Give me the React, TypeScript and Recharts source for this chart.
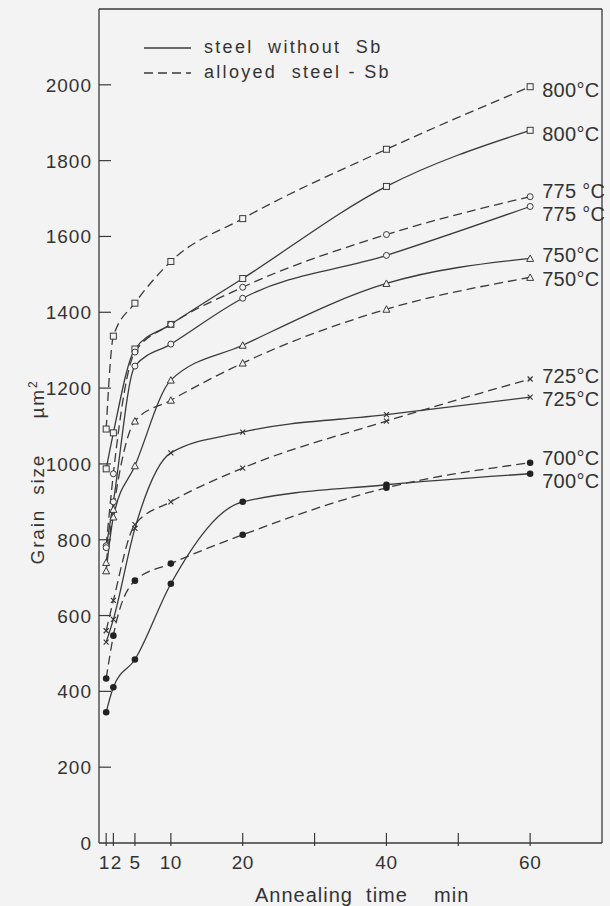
import { LineChart, Line, XAxis, YAxis, ReferenceLine } from "recharts";

// annealing times (min) shared by every curve
const times = [1, 2, 5, 10, 20, 40, 60];

// grain size (µm²), solid = steel without Sb, dashed = alloyed steel-Sb
const solid800 = [987, 1082, 1303, 1368, 1489, 1732, 1880];
const dashed800 = [1092, 1337, 1424, 1534, 1647, 1830, 1995];
const solid775 = [779, 900, 1258, 1316, 1437, 1550, 1679];
const dashed775 = [784, 974, 1295, 1368, 1466, 1605, 1705];
const solid750 = [718, 860, 995, 1221, 1313, 1476, 1542];
const dashed750 = [740, 880, 1113, 1168, 1266, 1408, 1492];
const solid725 = [530, 590, 830, 1029, 1084, 1130, 1176];
const dashed725 = [560, 640, 840, 900, 989, 1113, 1224];
const solid700 = [345, 411, 484, 684, 900, 945, 974];
const dashed700 = [434, 547, 692, 737, 813, 937, 1003];

const xTicks = [1, 2, 5, 10, 20, 30, 40, 50, 60];
const xTickLabels = ["1", "2", "5", "10", "20", "", "40", "", "60"];
const yTicks = [0, 200, 400, 600, 800, 1000, 1200, 1400, 1600, 1800, 2000];

const INK = "#3a3a3a";
const BG = "#f3f3f3";
const FONT = "'Liberation Sans', Arial, sans-serif";

type Marker = "square" | "circle" | "triangle" | "cross" | "dot";

const series: { key: string; values: number[]; dashed: boolean; marker: Marker; label: string; dy: number }[] = [
  { key: "d800", values: dashed800, dashed: true, marker: "square", label: "800°C", dy: 3 },
  { key: "s800", values: solid800, dashed: false, marker: "square", label: "800°C", dy: 4 },
  { key: "d775", values: dashed775, dashed: true, marker: "circle", label: "775 °C", dy: -6 },
  { key: "s775", values: solid775, dashed: false, marker: "circle", label: "775 °C", dy: 7 },
  { key: "s750", values: solid750, dashed: false, marker: "triangle", label: "750°C", dy: -3 },
  { key: "d750", values: dashed750, dashed: true, marker: "triangle", label: "750°C", dy: 2 },
  { key: "d725", values: dashed725, dashed: true, marker: "cross", label: "725°C", dy: -3 },
  { key: "s725", values: solid725, dashed: false, marker: "cross", label: "725°C", dy: 2 },
  { key: "d700", values: dashed700, dashed: true, marker: "dot", label: "700°C", dy: -5 },
  { key: "s700", values: solid700, dashed: false, marker: "dot", label: "700°C", dy: 7 },
];

const rows = times.map((t, i) => {
  const row: Record<string, number> = { t };
  series.forEach((s) => (row[s.key] = s.values[i]));
  return row;
});

const makeDot = (marker: Marker) => (p: any) => {
  const { cx, cy, index } = p;
  if (cx == null || cy == null) return <g key={index} />;
  const k = `m${index}`;
  if (marker === "square")
    return <rect key={k} x={cx - 3} y={cy - 3} width={6} height={6} fill={BG} stroke={INK} strokeWidth={1} />;
  if (marker === "circle") return <circle key={k} cx={cx} cy={cy} r={3} fill={BG} stroke={INK} strokeWidth={1} />;
  if (marker === "triangle")
    return (
      <path key={k} d={`M${cx},${cy - 3.5} L${cx + 3.5},${cy + 3} L${cx - 3.5},${cy + 3} Z`} fill={BG} stroke={INK} strokeWidth={1} />
    );
  if (marker === "cross")
    return (
      <path key={k} d={`M${cx - 2.5},${cy - 2.5} L${cx + 2.5},${cy + 2.5} M${cx - 2.5},${cy + 2.5} L${cx + 2.5},${cy - 2.5}`} stroke={INK} strokeWidth={1.2} />
    );
  return <circle key={k} cx={cx} cy={cy} r={3.3} fill="#222" />;
};

const makeLabel = (text: string, dy: number) => (p: any) => {
  const last = p.index === times.length - 1 || (p.index == null && p.x > 520);
  if (!last) return null;
  return (
    <text key="lbl" x={p.x + 12} y={p.y + dy + 7} fill="#333" fontSize={20} fontFamily={FONT} letterSpacing={0.3}>
      {text}
    </text>
  );
};

const XTick = (p: any) => {
  const { x, y, payload } = p;
  const v = payload.value;
  const lbl = xTickLabels[xTicks.indexOf(v)];
  const dx = v === 1 ? -2 : v === 2 ? 3 : 0;
  return (
    <g>
      <line x1={x} x2={x} y1={y - 10} y2={y + 3} stroke={INK} strokeWidth={1.2} />
      {lbl && (
        <text x={x + dx} y={y + 26} textAnchor="middle" fill="#333" fontSize={19} fontFamily={FONT} letterSpacing={0.5}>
          {lbl}
        </text>
      )}
    </g>
  );
};

const YTick = (p: any) => {
  const { x, y, payload } = p;
  return (
    <g>
      {payload.value !== 0 && <line x1={x} x2={x + 12} y1={y} y2={y} stroke={INK} strokeWidth={1.2} />}
      <text x={x - 7} y={y + 7} textAnchor="end" fill="#333" fontSize={19} fontFamily={FONT} letterSpacing={1}>
        {payload.value}
      </text>
    </g>
  );
};

const XTitle = () => (
  <text x={255} y={902} fill="#333" fontSize={20} fontFamily={FONT} letterSpacing={1} style={{ whiteSpace: "pre" }}>
    {"Annealing  time    min"}
  </text>
);

const YTitle = () => (
  <text
    x={0}
    y={0}
    transform="translate(44,472) rotate(-90)"
    textAnchor="middle"
    fill="#333"
    fontSize={19}
    fontFamily={FONT}
    letterSpacing={1.8}
    style={{ whiteSpace: "pre" }}
  >
    {"Grain  size     µm"}
    <tspan dy={-7} fontSize={12}>2</tspan>
  </text>
);

export default function App() {
  return (
    <div style={{ position: "absolute", left: 0, top: 0, width: 610, height: 906, background: BG }}>
      <LineChart width={610} height={906} data={rows} margin={{ top: 9, right: 8, left: 0, bottom: 0 }}>
        <XAxis
          dataKey="t"
          type="number"
          domain={[0, 70]}
          ticks={xTicks}
          interval={0}
          tickSize={0}
          tickMargin={0}
          tickLine={false}
          axisLine={{ stroke: INK, strokeWidth: 1.3 }}
          tick={<XTick />}
          height={63}
          label={<XTitle />}
        />
        <YAxis
          type="number"
          domain={[0, 2200]}
          ticks={yTicks}
          interval={0}
          tickSize={0}
          tickMargin={0}
          tickLine={false}
          axisLine={{ stroke: INK, strokeWidth: 1.3 }}
          tick={<YTick />}
          width={99}
          label={<YTitle />}
        />
        <ReferenceLine y={2200} stroke={INK} strokeWidth={1.3} />
        <ReferenceLine x={70} stroke={INK} strokeWidth={1.3} />
        {series.map((s) => (
          <Line
            key={s.key}
            dataKey={s.key}
            type="monotone"
            stroke={INK}
            strokeWidth={1.3}
            strokeDasharray={s.dashed ? "9 5" : undefined}
            dot={makeDot(s.marker)}
            activeDot={false}
            label={makeLabel(s.label, s.dy)}
            isAnimationActive={false}
          />
        ))}
      </LineChart>
      <div style={{ position: "absolute", left: 140, top: 35, fontFamily: FONT, fontSize: 18, color: "#333", letterSpacing: 2.3 }}>
        <div style={{ display: "flex", alignItems: "center", height: 25 }}>
          <svg width={64} height={10}>
            <line x1={4} x2={51} y1={5} y2={5} stroke={INK} strokeWidth={1.3} />
          </svg>
          <span style={{ whiteSpace: "pre" }}>{"steel  without  Sb"}</span>
        </div>
        <div style={{ display: "flex", alignItems: "center", height: 25 }}>
          <svg width={64} height={10}>
            <line x1={4} x2={51} y1={5} y2={5} stroke={INK} strokeWidth={1.3} strokeDasharray="9 5" />
          </svg>
          <span style={{ whiteSpace: "pre" }}>{"alloyed  steel - Sb"}</span>
        </div>
      </div>
    </div>
  );
}
